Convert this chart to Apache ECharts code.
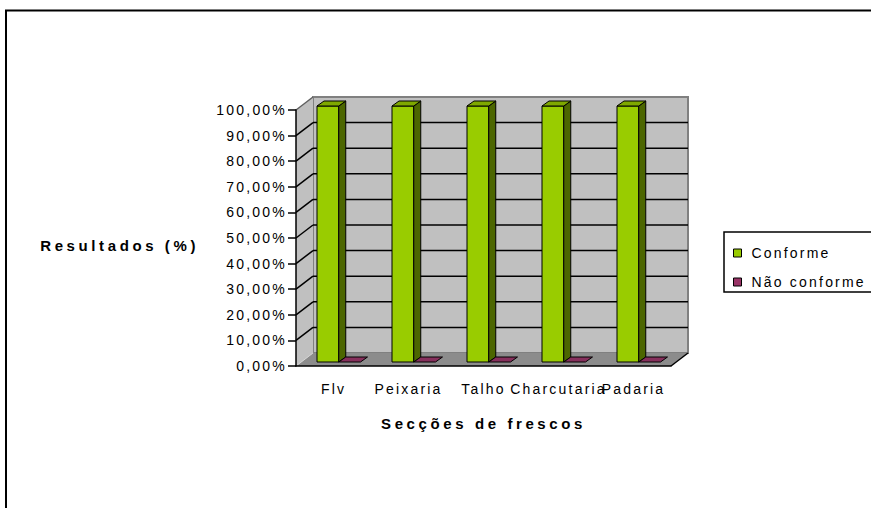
<!DOCTYPE html>
<html><head><meta charset="utf-8">
<script src="https://cdn.jsdelivr.net/npm/echarts@6/dist/echarts.min.js"></script>
<style>html,body{margin:0;padding:0;background:#fff}#c{width:871px;height:508px}</style>
</head><body><div id="c"></div>
<script>
// ---- data ----
const categories = ['Flv', 'Peixaria', 'Talho', 'Charcutaria', 'Padaria'];
const conforme = [100, 100, 100, 100, 100];
const naoConforme = [0, 0, 0, 0, 0];
const seriesNames = ['Conforme', 'Não conforme'];
const yTickValues = [0, 10, 20, 30, 40, 50, 60, 70, 80, 90, 100];
const yTickLabels = ['0,00%', '10,00%', '20,00%', '30,00%', '40,00%', '50,00%', '60,00%', '70,00%', '80,00%', '90,00%', '100,00%'];
const yAxisTitle = 'Resultados (%)';
const xAxisTitle = 'Secções de frescos';

// ---- style / layout ----
const FONT = "'Liberation Sans', Arial, sans-serif";
const FRONT = { left: 296, top: 110, width: 375, height: 256 };
const DEPTH = [17, -13];
const BAR_START = 0.28, BAR_W = 0.29, BAR_SHIFT_Y = -4, BAR_DEPTH = [7, -5];

function barSeries(name, values, slot, front, side, topc) {
  return {
    type: 'custom', name: name, xAxisIndex: 0, yAxisIndex: 0, z: 3,
    itemStyle: { color: front, borderColor: '#000', borderWidth: 1 },
    data: values.map((v, i) => [i, v]),
    encode: { x: 0, y: 1 },
    renderItem: function (params, api) {
      const cat = api.value(0), v = api.value(1);
      const band = api.size([1, 0])[0];
      const b = api.coord([cat, 0]), t = api.coord([cat, v]);
      const x0 = b[0] - band / 2 + band * (BAR_START + slot * BAR_W);
      const x1 = x0 + band * BAR_W;
      const yb = b[1] + BAR_SHIFT_Y, yt = t[1] + BAR_SHIFT_Y;
      const dx = BAR_DEPTH[0], dy = BAR_DEPTH[1];
      const st = { stroke: '#000', lineWidth: 1 };
      const children = [];
      if (yb - yt > 0.5) {
        children.push({ type: 'rect', shape: { x: x0, y: yt, width: x1 - x0, height: yb - yt }, style: Object.assign({}, st, { fill: front }) });
        children.push({ type: 'polygon', shape: { points: [[x1, yt], [x1 + dx, yt + dy], [x1 + dx, yb + dy], [x1, yb]] }, style: Object.assign({}, st, { fill: side }) });
      }
      children.push({ type: 'polygon', shape: { points: [[x0, yt], [x0 + dx, yt + dy], [x1 + dx, yt + dy], [x1, yt]] }, style: Object.assign({}, st, { fill: topc }) });
      return { type: 'group', children: children };
    }
  };
}

const wallSeries = {
  type: 'custom', name: 'walls', xAxisIndex: 0, yAxisIndex: 0, z: 1, silent: true,
  data: yTickValues.map(v => [0, v]),
  encode: { x: 0, y: 1 },
  renderItem: function (params, api) {
    const band = api.size([1, 0])[0];
    const v = api.value(1);
    const p = api.coord([0, v]);
    const xl = p[0] - band / 2;
    const r = api.coord([categories.length - 1, 0]);
    const xr = r[0] + band / 2;
    const dx = DEPTH[0], dy = DEPTH[1];
    const last = yTickValues.length - 1;
    const children = [];
    if (params.dataIndex === 0) {
      const top = api.coord([0, yTickValues[last]]);
      children.push({ type: 'polygon', shape: { points: [[xl, p[1]], [xl, top[1]], [xl + dx, top[1] + dy], [xl + dx, p[1] + dy]] }, style: { fill: '#C0C0C0' } });
      children.push({ type: 'polygon', shape: { points: [[xl, p[1]], [xr, p[1]], [xr + dx, p[1] + dy], [xl + dx, p[1] + dy]] }, style: { fill: '#8C8C8C' } });
      children.push({ type: 'line', shape: { x1: xr, y1: p[1], x2: xr + dx, y2: p[1] + dy }, style: { stroke: '#000', lineWidth: 1.5 } });
      children.push({ type: 'line', shape: { x1: xl, y1: p[1], x2: xl + dx, y2: p[1] + dy }, style: { stroke: '#D4D4D4', lineWidth: 1 } });
    } else {
      // diagonal on the side wall
      children.push({ type: 'line', shape: { x1: xl, y1: p[1], x2: xl + dx, y2: p[1] + dy }, style: { stroke: params.dataIndex === last ? '#606060' : '#000', lineWidth: 1.5 } });
      // gridline on the back wall
      if (params.dataIndex !== last) {
        children.push({ type: 'line', shape: { x1: xl + dx, y1: p[1] + dy, x2: xr + dx, y2: p[1] + dy }, style: { stroke: '#000', lineWidth: 1.5 } });
      }
    }
    return { type: 'group', children: children };
  }
};

const chart = echarts.init(document.getElementById('c'), null, { renderer: 'svg' });
const option = {
  animation: false,
  textStyle: { fontFamily: FONT },
  graphic: [{ type: 'rect', silent: true, z: -1, shape: { x: 6, y: 10.5, width: 900, height: 600 }, style: { fill: 'none', stroke: '#000', lineWidth: 2 } }],
  grid: [
    { left: FRONT.left, top: FRONT.top, width: FRONT.width, height: FRONT.height, show: false },
    { left: FRONT.left + DEPTH[0], top: FRONT.top + DEPTH[1], width: FRONT.width, height: FRONT.height, show: true, backgroundColor: '#C0C0C0', borderColor: '#808080', borderWidth: 2 }
  ],
  xAxis: [
    { type: 'category', gridIndex: 0, data: categories, z: 10,
      axisLine: { lineStyle: { color: '#000', width: 1.5 } },
      axisTick: { length: 7, interval: 0, lineStyle: { color: '#000', width: 1.5 } },
      axisLabel: { color: '#000', fontSize: 14, margin: 16, interval: 0, fontFamily: FONT },
      name: xAxisTitle, nameLocation: 'middle', nameGap: 50,
      nameTextStyle: { color: '#000', fontSize: 15, fontWeight: 'bold', fontFamily: FONT } },
    { type: 'category', gridIndex: 1, data: categories, axisLine: { show: false }, axisTick: { show: false }, axisLabel: { show: false }, splitLine: { show: false } }
  ],
  yAxis: [
    { type: 'value', gridIndex: 0, min: 0, max: 100, interval: 10, z: 10,
      axisLine: { show: true, lineStyle: { color: '#000', width: 1.5 } },
      axisTick: { show: true, length: 8, lineStyle: { color: '#000', width: 1.5 } },
      axisLabel: { color: '#000', fontSize: 14, margin: 9, fontFamily: FONT, formatter: v => yTickLabels[Math.round(v / 10)] },
      splitLine: { show: false },
      name: yAxisTitle, nameLocation: 'middle', nameRotate: 0, nameGap: 97,
      nameTextStyle: { color: '#000', fontSize: 15, fontWeight: 'bold', fontFamily: FONT, align: 'right', verticalAlign: 'top' } },
    { type: 'value', gridIndex: 1, min: 0, max: 100, interval: 10,
      axisLine: { show: false }, axisTick: { show: false }, axisLabel: { show: false },
      splitLine: { show: false } }
  ],
  legend: {
    data: seriesNames, orient: 'vertical', left: 724, top: 232,
    itemWidth: 8, itemHeight: 8, itemGap: 15, icon: 'rect',
    padding: [14, 60, 3, 9], borderColor: '#000', borderWidth: 1.5,
    itemStyle: { borderColor: '#000', borderWidth: 1 },
    textStyle: { color: '#000', fontSize: 14, fontFamily: FONT, padding: [0, 0, 0, 5] }
  },
  series: [
    wallSeries,
    barSeries(seriesNames[0], conforme, 0, '#99CC00', '#4C6600', '#7FA800'),
    barSeries(seriesNames[1], naoConforme, 1, '#993366', '#5E1F3F', '#86305C')
  ]
};
chart.setOption(option);

function applySpacing() {
  document.querySelectorAll('#c text').forEach(t => {
    const w = parseInt(window.getComputedStyle(t).fontWeight, 10) || 400;
    t.style.letterSpacing = w >= 600 ? '3.6px' : '2.2px';
  });
}
chart.on('finished', applySpacing);
applySpacing();
setTimeout(applySpacing, 0);
</script>
</body></html>
